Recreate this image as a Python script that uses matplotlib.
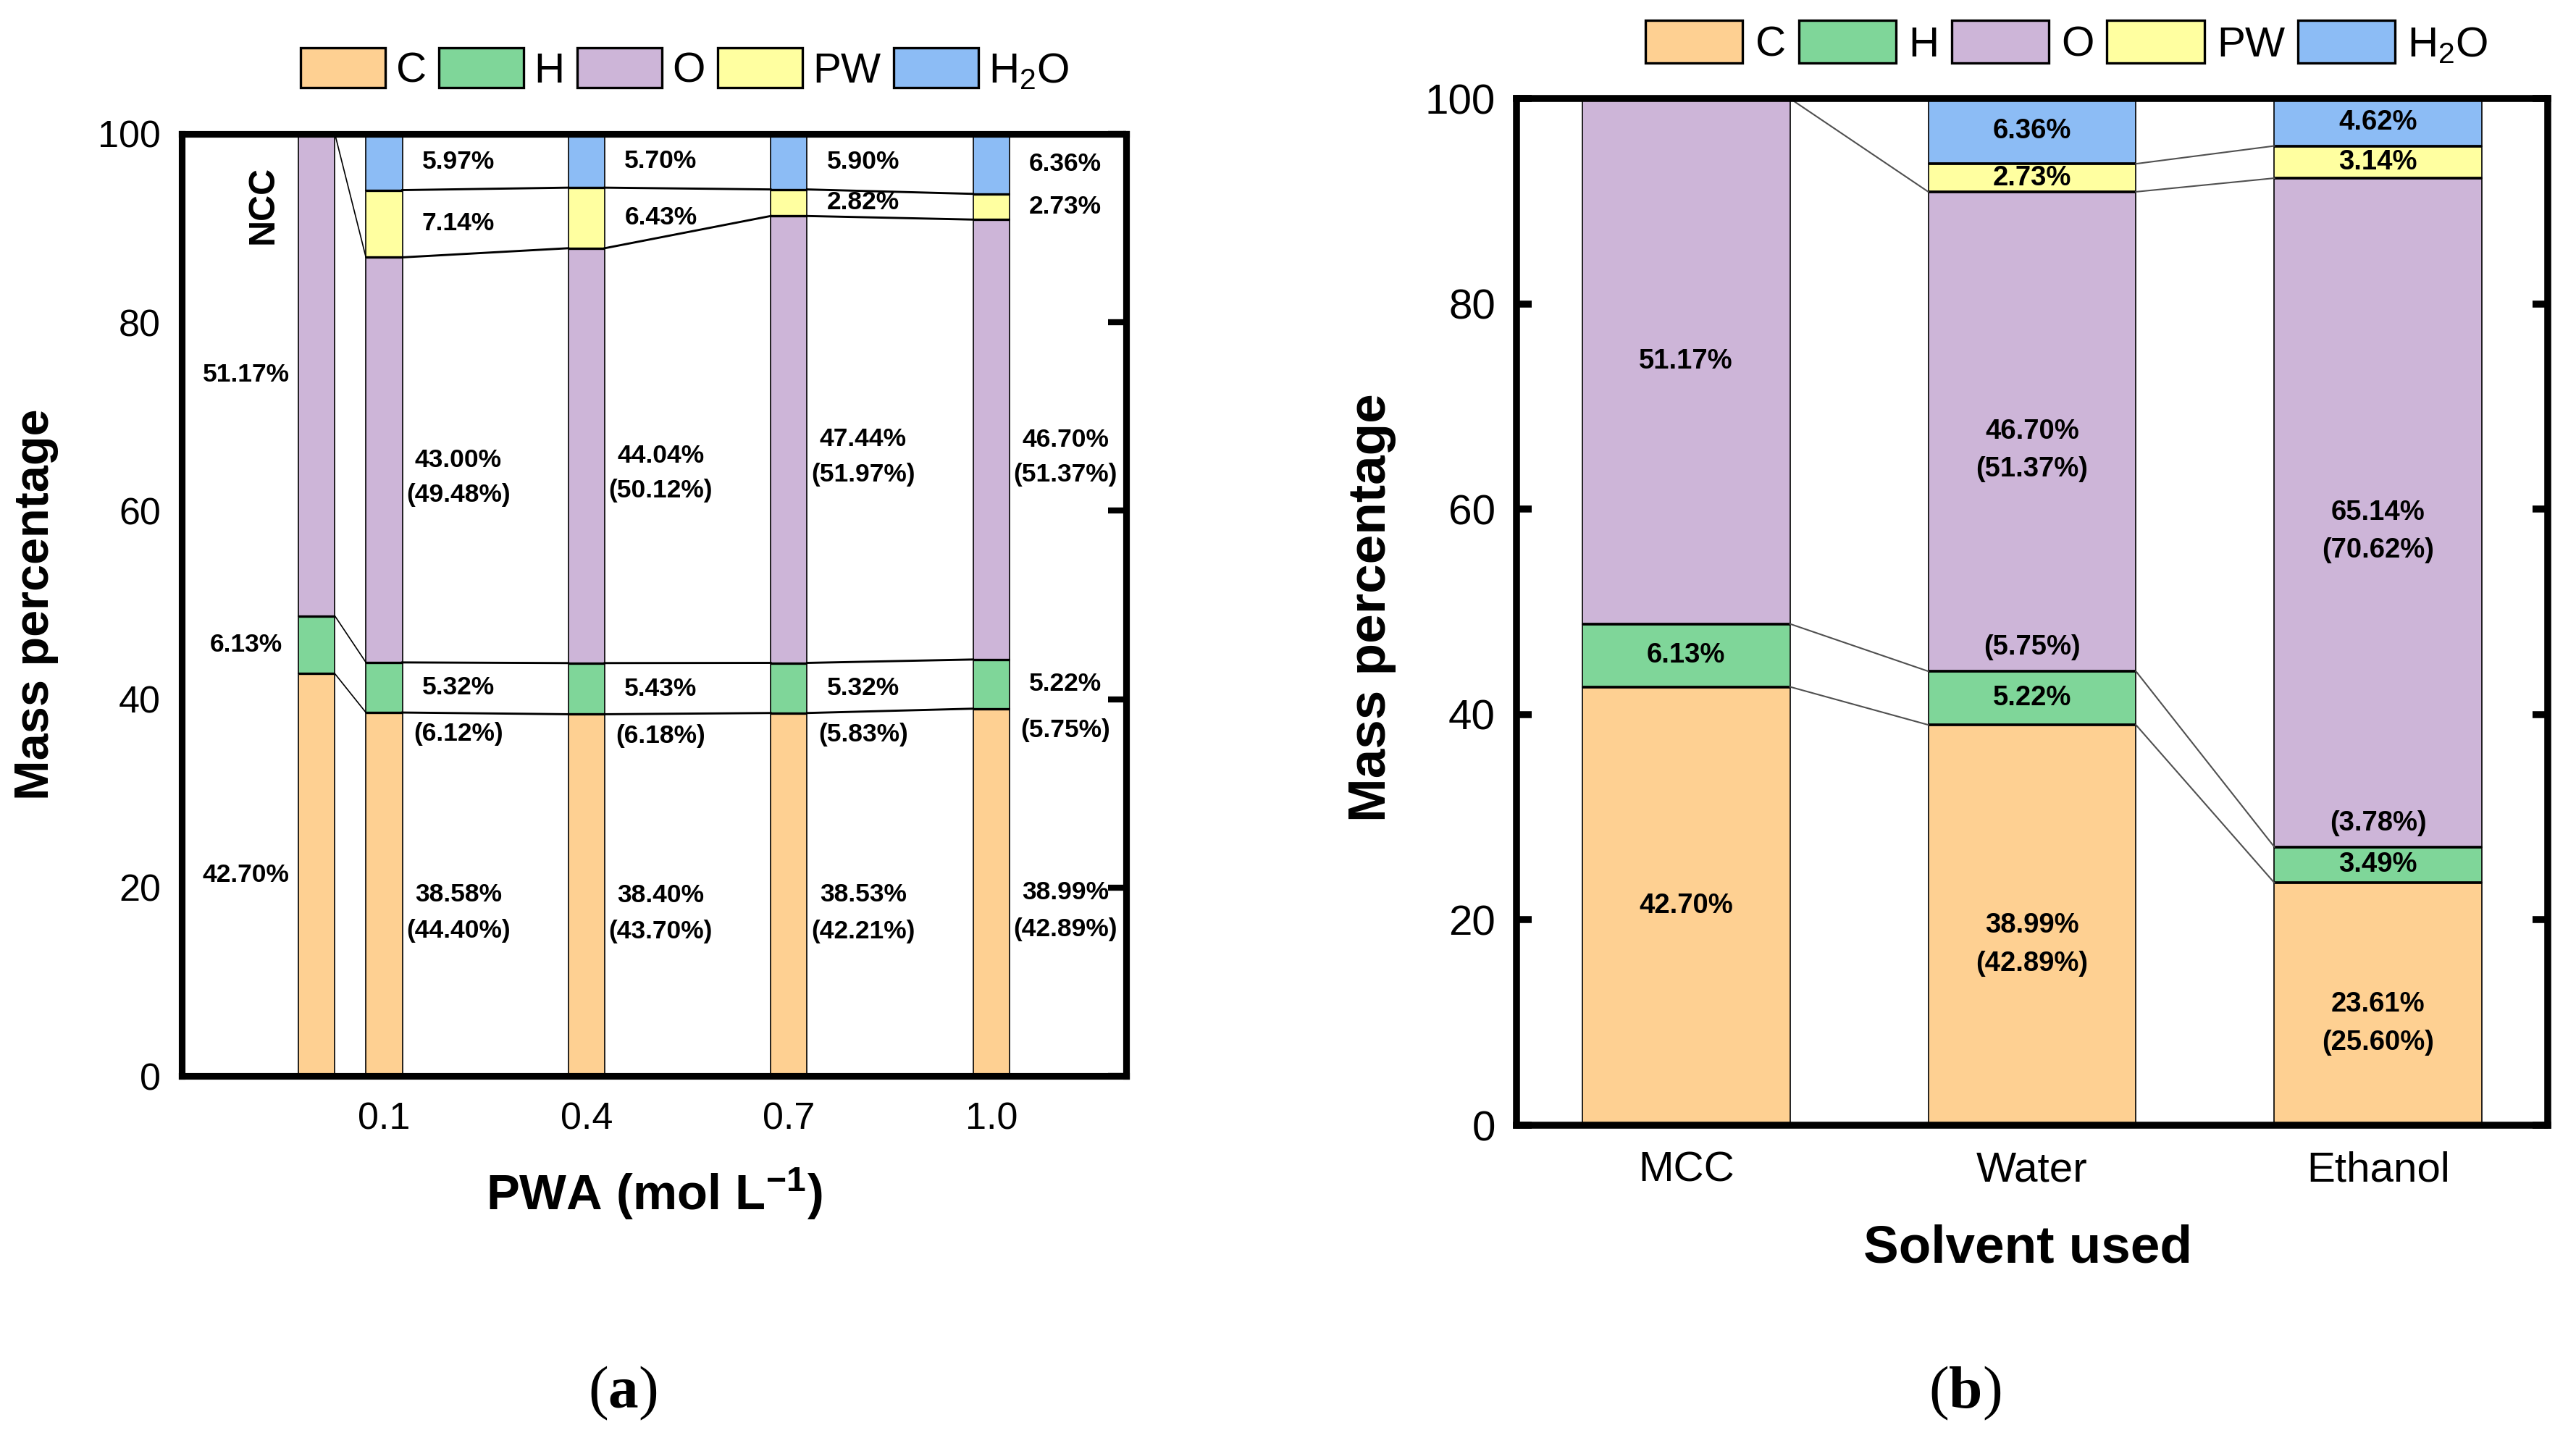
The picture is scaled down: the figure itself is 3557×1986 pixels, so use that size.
import matplotlib
matplotlib.use('Agg')
import matplotlib.pyplot as plt
from matplotlib.patches import Patch
import numpy as np

plt.rcParams['font.family'] = ['Liberation Sans', 'DejaVu Sans']
plt.rcParams['mathtext.fontset'] = 'custom'
plt.rcParams['mathtext.rm'] = 'Liberation Sans'
plt.rcParams['mathtext.it'] = 'Liberation Sans:italic'
plt.rcParams['mathtext.bf'] = 'Liberation Sans:bold'
plt.rcParams['mathtext.sf'] = 'Liberation Serif:bold'

# ---------------- data ----------------
components = ['C', 'H', 'O', 'PW', 'H$_2$O']
colors = ['#FED092', '#7FD699', '#CDB5D8', '#FFFFA0', '#8CBCF5']

# Panel (a): NCC and PWA concentration
pwa_x = [0.0, 0.1, 0.4, 0.7, 1.0]
pwa_ticks = ['0.1', '0.4', '0.7', '1.0']
a_C = [42.70, 38.58, 38.40, 38.53, 38.99]
a_H = [6.13, 5.32, 5.43, 5.32, 5.22]
a_O = [51.17, 43.00, 44.04, 47.44, 46.70]
a_PW = [0, 7.14, 6.43, 2.82, 2.73]
a_H2O = [0, 5.97, 5.70, 5.90, 6.36]
a_C_paren = [None, 44.40, 43.70, 42.21, 42.89]
a_H_paren = [None, 6.12, 6.18, 5.83, 5.75]
a_O_paren = [None, 49.48, 50.12, 51.97, 51.37]

# Panel (b): solvent used
solvents = ['MCC', 'Water', 'Ethanol']
b_C = [42.70, 38.99, 23.61]
b_H = [6.13, 5.22, 3.49]
b_O = [51.17, 46.70, 65.14]
b_PW = [0, 2.73, 3.14]
b_H2O = [0, 6.36, 4.62]
b_C_paren = [None, 42.89, 25.60]
b_H_paren = [None, 5.75, 3.78]
b_O_paren = [None, 51.37, 70.62]

W, H, DPI = 3557, 1986, 300
fig = plt.figure(figsize=(W / DPI, H / DPI), dpi=DPI)


def fpos(x0, x1, y0, y1):
    return [x0 / W, 1 - y1 / H, (x1 - x0) / W, (y1 - y0) / H]


def draw_stack(ax, xs, series, width, edge_lw, bound_lw, link_color, link_lw, first_link_lw):
    xs = np.asarray(xs, dtype=float)
    series = np.asarray(series, dtype=float)
    n = len(xs)
    cum = np.vstack([np.zeros(n), np.cumsum(series, axis=0)])
    for k in range(series.shape[0]):
        vals = series[k]
        m = vals > 0
        ax.bar(xs[m], vals[m], width, bottom=cum[k][m], color=colors[k],
               edgecolor='black', linewidth=edge_lw, zorder=2)
    for i, x in enumerate(xs):
        for k in range(1, series.shape[0]):
            if series[k - 1][i] > 0 and series[k][i] > 0:
                ax.plot([x - width / 2, x + width / 2], [cum[k][i]] * 2, color='black',
                        lw=bound_lw, solid_capstyle='butt', zorder=3)
    for i in range(n - 1):
        for k in range(1, series.shape[0] + 1):
            both = series[k - 1][i] > 0 and series[k - 1][i + 1] > 0
            if k <= 3 or both:
                lw = first_link_lw if (series[3][i] == 0) else link_lw
                ax.plot([xs[i] + width / 2, xs[i + 1] - width / 2],
                        [cum[k][i], cum[k][i + 1]], color=link_color, lw=lw, zorder=3)
    return cum


def style_frame(ax, lw):
    for s in ax.spines.values():
        s.set_linewidth(lw)
        s.set_zorder(5)


# ---------------- panel (a) ----------------
axa = fig.add_axes(fpos(251, 1555, 185, 1486))
wa = 0.054
series_a = [a_C, a_H, a_O, a_PW, a_H2O]
cum_a = draw_stack(axa, pwa_x, series_a, wa, 0.4, 0.8, 'black', 0.7, 0.4)
axa.set_xlim(-0.2, 1.2)
axa.set_ylim(0, 100)
axa.set_xticks(pwa_x[1:])
axa.set_xticklabels(pwa_ticks)
axa.set_yticks([0, 20, 40, 60, 80, 100])
axa.tick_params(axis='x', bottom=False, labelsize=12.5, pad=5)
axa.tick_params(axis='y', left=False, right=True, direction='in', length=6, width=2,
                labelsize=12.5, pad=7)
style_frame(axa, 2.2)

laba = dict(fontsize=8.5, fontweight='bold', ha='center', va='center', zorder=6)
for i, x in enumerate(pwa_x):
    tx = x - 0.105 if i == 0 else x + 0.11
    segs = [a_C[i], a_H[i], a_O[i], a_PW[i], a_H2O[i]]
    for k, v in enumerate(segs):
        if v > 0:
            yc = (cum_a[k][i] + cum_a[k + 1][i]) / 2
            axa.text(tx, yc, f'{v:.2f}%', **laba)
    if a_C_paren[i] is not None:
        axa.text(tx, (cum_a[0][i] + cum_a[1][i]) / 2 - 3.9, f'({a_C_paren[i]:.2f}%)', **laba)
        axa.text(tx, cum_a[1][i] - 2.3, f'({a_H_paren[i]:.2f}%)', **laba)
        axa.text(tx, (cum_a[2][i] + cum_a[3][i]) / 2 - 3.7, f'({a_O_paren[i]:.2f}%)', **laba)
axa.text(-0.079, 92.5, 'NCC', rotation=90, fontsize=12, fontweight='bold',
         ha='center', va='center')

# ---------------- panel (b) ----------------
axb = fig.add_axes(fpos(2094, 3518, 136, 1554))
wb = 0.6
xb = np.arange(len(solvents))
series_b = [b_C, b_H, b_O, b_PW, b_H2O]
cum_b = draw_stack(axb, xb, series_b, wb, 0.4, 0.9, '#505050', 0.5, 0.5)
axb.set_xlim(-0.49, 2.49)
axb.set_ylim(0, 100)
axb.set_xticks(xb)
axb.set_xticklabels(solvents)
axb.set_yticks([0, 20, 40, 60, 80, 100])
axb.tick_params(axis='x', bottom=False, labelsize=14, pad=5)
axb.tick_params(axis='y', left=True, right=True, direction='in', length=5, width=2.3,
                labelsize=14, pad=7)
style_frame(axb, 2.3)

labb = dict(fontsize=9.2, fontweight='bold', ha='center', va='center', zorder=6)
for i, x in enumerate(xb):
    segs = [b_C[i], b_H[i], b_O[i], b_PW[i], b_H2O[i]]
    for k, v in enumerate(segs):
        if v > 0:
            yc = (cum_b[k][i] + cum_b[k + 1][i]) / 2
            axb.text(x, yc, f'{v:.2f}%', **labb)
    if b_C_paren[i] is not None:
        axb.text(x, (cum_b[0][i] + cum_b[1][i]) / 2 - 3.8, f'({b_C_paren[i]:.2f}%)', **labb)
        axb.text(x, cum_b[2][i] + 2.3, f'({b_H_paren[i]:.2f}%)', **labb)
        axb.text(x, (cum_b[2][i] + cum_b[3][i]) / 2 - 3.7, f'({b_O_paren[i]:.2f}%)', **labb)

# ---------------- labels ----------------
fig.text(50 / W, 1 - 835 / H, 'Mass percentage', rotation=90, fontsize=16,
         fontweight='bold', ha='center', va='center')
fig.text(1894 / W, 1 - 839 / H, 'Mass percentage', rotation=90, fontsize=17.5,
         fontweight='bold', ha='center', va='center')
fig.text(903 / W, 1 - 1649 / H, r'PWA (mol L$^{\mathbf{-1}}$)', fontsize=16.5,
         fontweight='bold', ha='center', va='center')
fig.text(2800 / W, 1 - 1724 / H, 'Solvent used', fontsize=17.5,
         fontweight='bold', ha='center', va='center')
fig.text(860 / W, 1 - 1924 / H, r'($\mathsf{a}$)', family='Liberation Serif',
         fontsize=20, ha='center', va='center')
fig.text(2713 / W, 1 - 1924 / H, r'($\mathsf{b}$)', family='Liberation Serif',
         fontsize=20, ha='center', va='center')

# ---------------- legends ----------------
handles = [Patch(facecolor=c, edgecolor='black', linewidth=0.8) for c in colors]
fig.legend(handles, components, loc='center', bbox_to_anchor=(0.266, 1 - 96 / H),
           ncol=5, frameon=False, fontsize=14, handlelength=2.0, handleheight=1.06,
           handletextpad=0.25, columnspacing=0.3, borderpad=0, borderaxespad=0)
fig.legend(handles, components, loc='center', bbox_to_anchor=(0.8024, 1 - 59 / H),
           ncol=5, frameon=False, fontsize=14, handlelength=2.3, handleheight=1.17,
           handletextpad=0.3, columnspacing=0.3, borderpad=0, borderaxespad=0)

fig.savefig('out.png', dpi=DPI, facecolor='white')
